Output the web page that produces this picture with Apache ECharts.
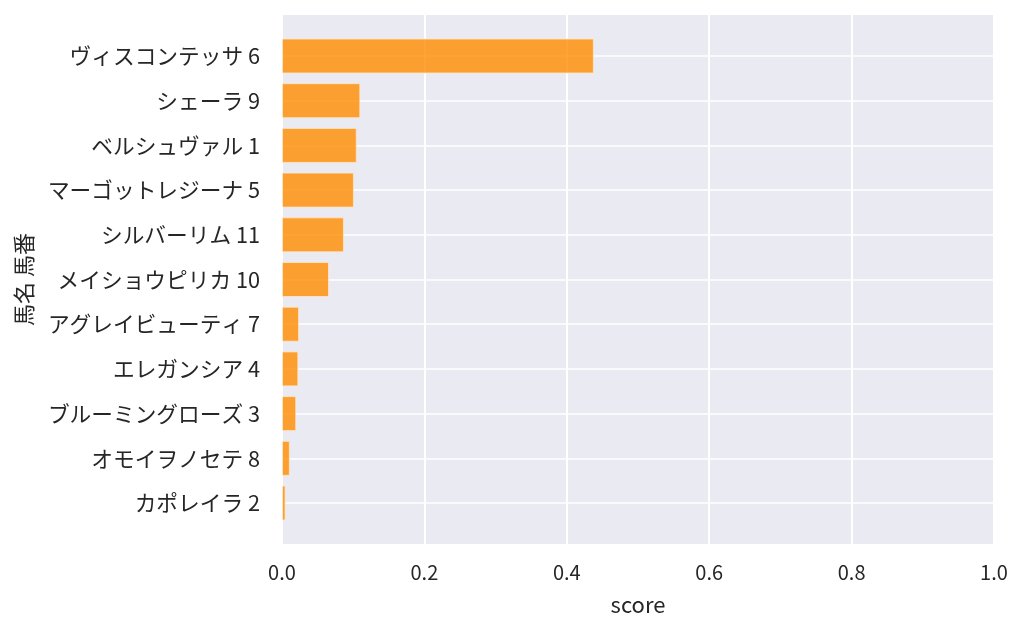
<!DOCTYPE html>
<html>
<head>
<meta charset="utf-8">
<script src="https://cdn.jsdelivr.net/npm/echarts@6/dist/echarts.min.js"></script>
<style>
html,body{margin:0;padding:0;background:#fff;}
#chart{width:1024px;height:634px;}
</style>
</head>
<body>
<div id="chart"></div>
<script>
const horseNames = ['ヴィスコンテッサ','シェーラ','ベルシュヴァル','マーゴットレジーナ','シルバーリム','メイショウピリカ','アグレイビューティ','エレガンシア','ブルーミングローズ','オモイヲノセテ','カポレイラ'];
const horseNumbers = [6, 9, 1, 5, 11, 10, 7, 4, 3, 8, 2];
const scores = [0.438, 0.110, 0.105, 0.101, 0.087, 0.066, 0.024, 0.023, 0.020, 0.011, 0.005];
const xTicks = [0, 0.2, 0.4, 0.6, 0.8, 1.0];

const labels = horseNames.map((n, i) => n + ' ' + horseNumbers[i]);
const FONT = '"Noto Sans CJK JP", "Noto Sans", sans-serif';
const TXT = '#262626';

const chart = echarts.init(document.getElementById('chart'));
chart.setOption({
  backgroundColor: '#ffffff',
  animation: false,
  textStyle: { fontFamily: FONT },
  grid: [
    { left: 282, right: 30, top: 15, bottom: 90, show: true, backgroundColor: '#eaeaf2', borderWidth: 0 },
    { left: 282, right: 30, top: 56, bottom: 131 }
  ],
  xAxis: [
    {
      gridIndex: 0, type: 'value', min: xTicks[0], max: xTicks[xTicks.length - 1], interval: 0.2,
      axisLine: { show: false }, axisTick: { show: false },
      splitLine: { show: true, lineStyle: { color: '#ffffff', width: 2 } },
      axisLabel: { fontSize: 20, color: TXT, margin: 18, fontFamily: FONT,
        formatter: v => v.toFixed(1) },
      name: 'score', nameLocation: 'middle', nameGap: 50,
      nameTextStyle: { fontSize: 22, color: TXT, fontFamily: FONT }
    },
    { gridIndex: 1, type: 'value', min: 0, max: 1, show: false }
  ],
  yAxis: [
    { gridIndex: 0, type: 'value', min: 0, max: 1, show: false },
    {
      gridIndex: 1, type: 'category', inverse: true, boundaryGap: false, data: labels,
      axisLine: { show: false }, axisTick: { show: false },
      splitLine: { show: true, lineStyle: { color: '#ffffff', width: 1.5 } },
      axisLabel: { fontSize: 21.7, color: TXT, margin: 22, fontFamily: FONT },
      name: '馬名 馬番', nameLocation: 'middle', nameGap: 247, nameRotate: 90,
      nameTextStyle: { fontSize: 22, color: TXT, fontFamily: FONT }
    }
  ],
  series: [{
    type: 'bar', xAxisIndex: 1, yAxisIndex: 1, data: scores, barWidth: 35,
    itemStyle: { color: 'rgba(255,140,0,0.8)', borderColor: 'rgba(255,230,200,0.8)', borderWidth: 1 }
  }]
});
</script>
</body>
</html>
